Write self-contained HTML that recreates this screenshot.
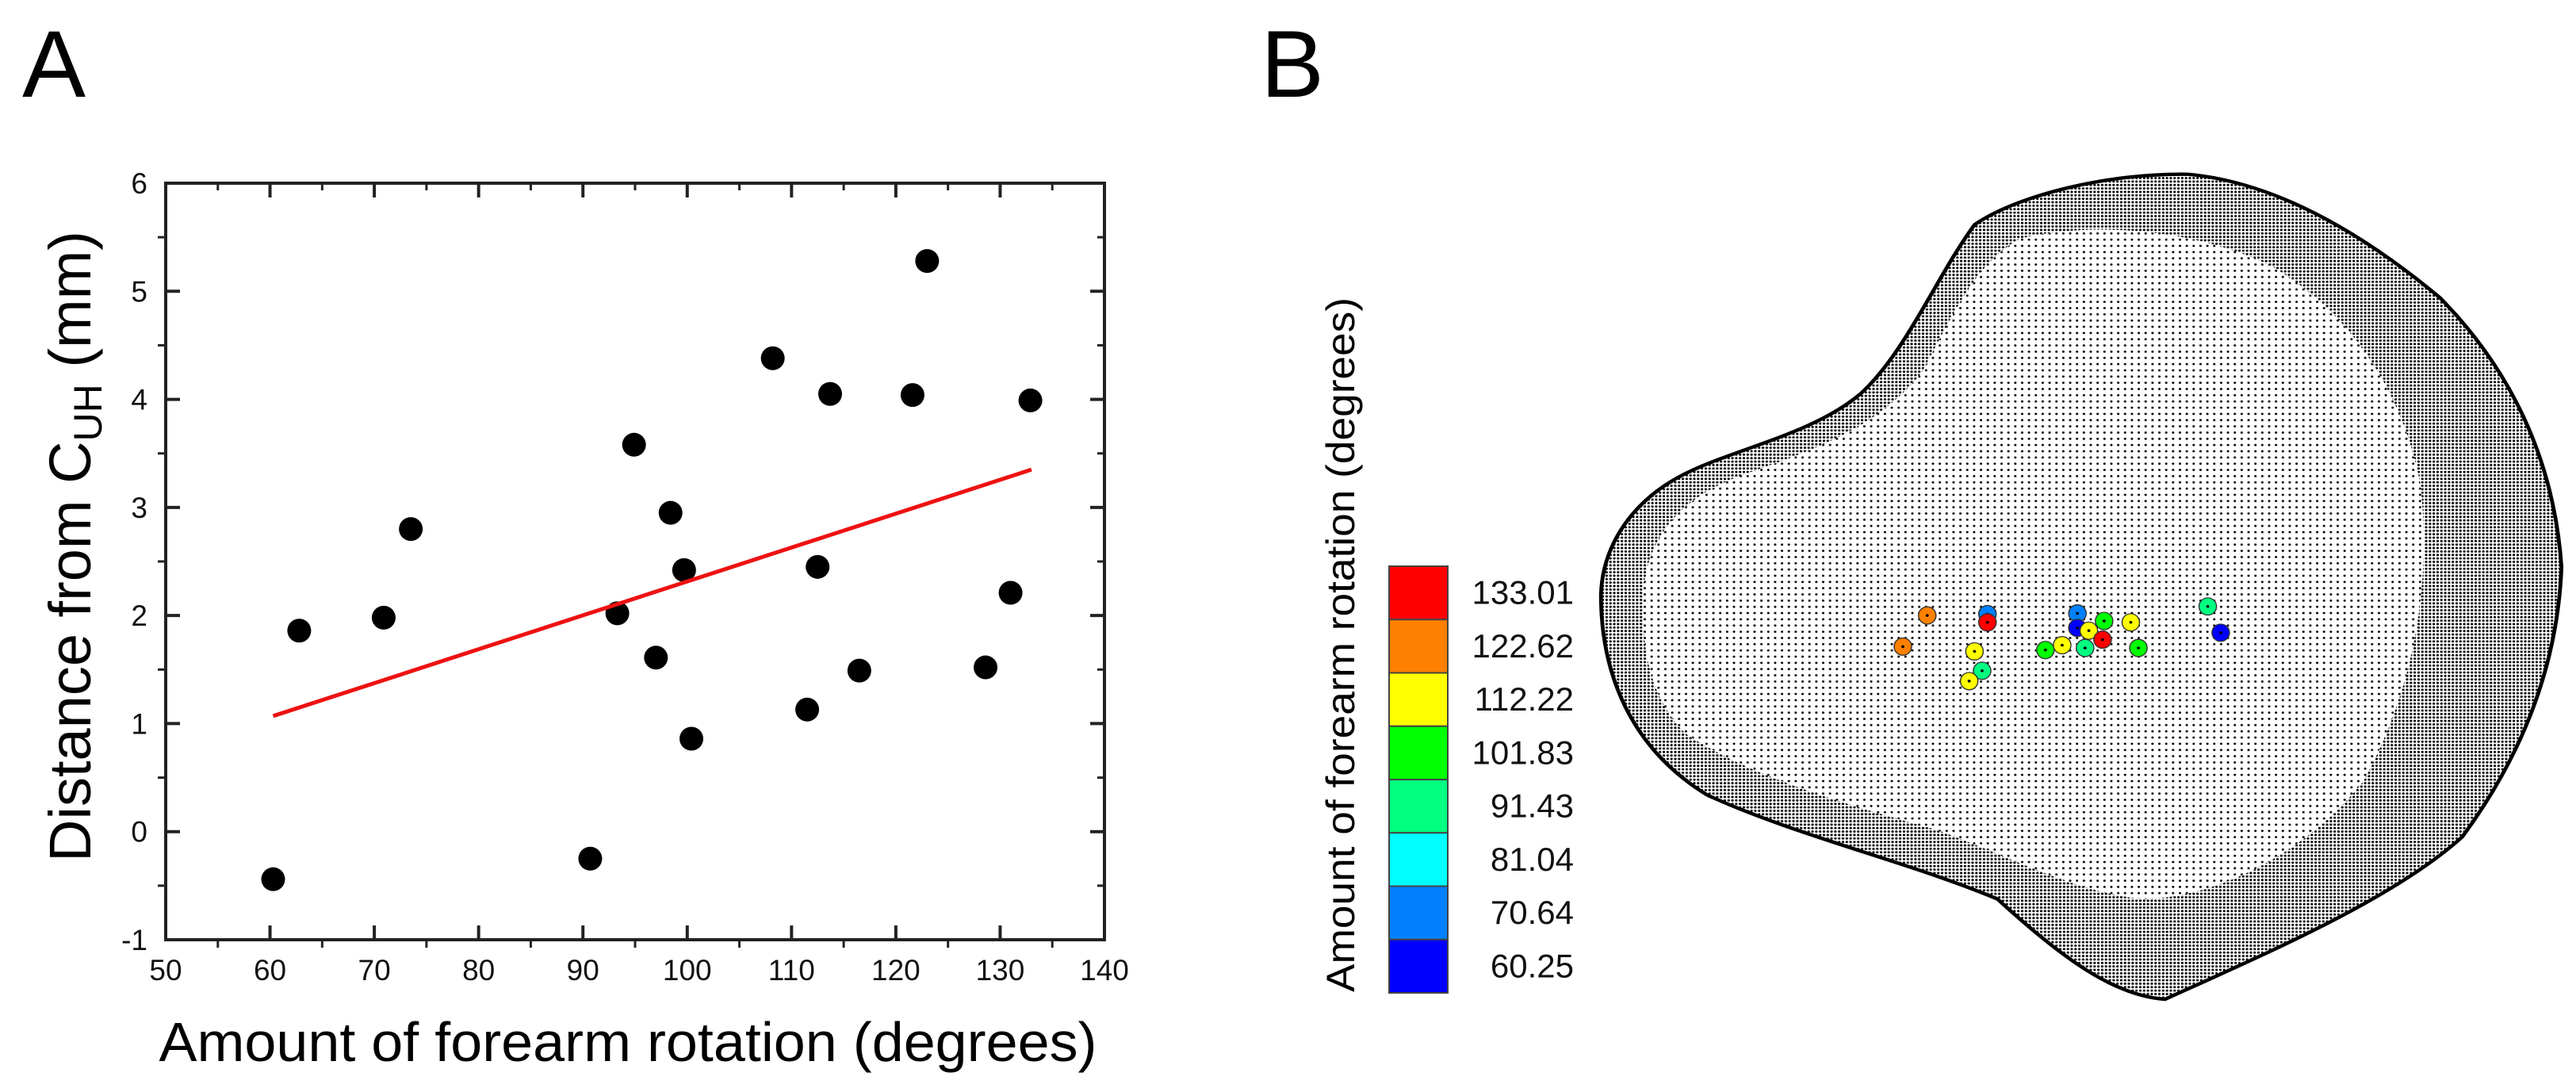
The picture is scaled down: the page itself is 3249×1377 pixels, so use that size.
<!DOCTYPE html>
<html><head><meta charset="utf-8">
<style>
html,body{margin:0;padding:0;background:#fff;}
svg{display:block;font-family:"Liberation Sans",Arial,sans-serif;}
</style></head>
<body>
<svg id="fig" width="3249" height="1377" viewBox="0 0 3249 1377" xmlns="http://www.w3.org/2000/svg">
<defs>
 <pattern id="sparse" width="9" height="9" patternUnits="userSpaceOnUse"><circle cx="4.5" cy="4.5" r="1.6" fill="#000"/></pattern>
 <pattern id="dense" width="5" height="5" patternUnits="userSpaceOnUse"><circle cx="2.5" cy="2.5" r="1.7" fill="#000"/></pattern>
</defs>
<text x="28" y="122" font-size="120">A</text>
<text x="1590" y="122" font-size="120">B</text>
<g id="chartA"></g>
<g id="panelB"></g>
</svg>
<script>
// ---- Panel A data ----
const rotation = [60.3,62.8,70.9,73.5,90.7,93.3,94.9,97.0,98.4,99.7,100.4,108.2,111.5,112.5,113.7,116.5,121.6,123.0,128.6,131.0,132.9];
const distance = [-0.44,1.86,1.98,2.80,-0.25,2.02,3.58,1.61,2.95,2.42,0.86,4.38,1.13,2.45,4.05,1.49,4.04,5.28,1.52,2.21,3.99];
const fitX = [60.3,133.0];
const fitY = [1.07,3.35];
const xTicks = [50,60,70,80,90,100,110,120,130,140];
const yTicks = [-1,0,1,2,3,4,5,6];
// ---- Panel B data ----
const legendLabels = ["133.01","122.62","112.22","101.83","91.43","81.04","70.64","60.25"];
const legendColors = ["#ff0000","#ff8000","#ffff00","#00ff00","#00ff80","#00ffff","#0080ff","#0000ff"];
const markerX = [708,676,787,787,770,780,763,863,885,905,905,920,940,915,938,975,985,1076,1093];
const markerY = [890,935,888,900,942,970,985,940,933,887,908,912,898,937,925,900,937,877,915];
const markerCol = [1,1,6,0,2,4,2,3,2,6,7,2,3,4,0,2,3,4,7];

const NS="http://www.w3.org/2000/svg";
function mk(tag,attrs,parent){const e=document.createElementNS(NS,tag);for(const k in attrs)e.setAttribute(k,attrs[k]);parent.appendChild(e);return e;}

const L=209,R=1393,T=231,B=1185;
const xs=v=>L+(v-50)/90*(R-L);
const ys=v=>B-(v+1)/7*(B-T);
const A=document.getElementById('chartA');

let fr=mk('rect',{x:L,y:T,width:R-L,height:B-T,fill:'none',stroke:'#222','stroke-width':4},A);



xTicks.forEach((t,i)=>{
  const x=xs(t);
  if(i>0&&i<xTicks.length-1){
    mk('line',{x1:x,y1:B,x2:x,y2:B-18,stroke:'#222','stroke-width':4},A);
    mk('line',{x1:x,y1:T,x2:x,y2:T+18,stroke:'#222','stroke-width':4},A);
  }
  if(i<xTicks.length-1){const xm=xs(t+5);
    mk('line',{x1:xm,y1:B,x2:xm,y2:B+10,stroke:'#222','stroke-width':3},A);
    mk('line',{x1:xm,y1:T,x2:xm,y2:T+9,stroke:'#222','stroke-width':3},A);}
  const tx=mk('text',{x:x,y:1236,'font-size':37,'text-anchor':'middle',fill:'#111'},A);
  tx.textContent=t;
  
  
});
yTicks.forEach((t,i)=>{
  const y=ys(t);
  if(i>0&&i<yTicks.length-1){
    mk('line',{x1:L,y1:y,x2:L+18,y2:y,stroke:'#222','stroke-width':4},A);
    mk('line',{x1:R,y1:y,x2:R-18,y2:y,stroke:'#222','stroke-width':4},A);
  }
  if(i<yTicks.length-1){const ym=ys(t+0.5);
    mk('line',{x1:L,y1:ym,x2:L-10,y2:ym,stroke:'#222','stroke-width':3},A);
    mk('line',{x1:R,y1:ym,x2:R-9,y2:ym,stroke:'#222','stroke-width':3},A);}
  const tx=mk('text',{x:186,y:y+13,'font-size':37,'text-anchor':'end',fill:'#111'},A);
  tx.textContent=t;
  
  
});
rotation.forEach((v,i)=>{
  const c=mk('circle',{cx:xs(v),cy:ys(distance[i]),r:15,fill:'#000'},A);
  
  
});
const fl=mk('line',{x1:xs(fitX[0]),y1:ys(fitY[0]),x2:xs(fitX[1]),y2:ys(fitY[1]),stroke:'#ee1111','stroke-width':5},A);



const xt=mk('text',{x:792,y:1338,'font-size':70,'text-anchor':'middle',textLength:1183,lengthAdjust:'spacingAndGlyphs'},A);
xt.textContent='Amount of forearm rotation (degrees)';


const yt=mk('text',{x:0,y:0,'font-size':74,'text-anchor':'middle',transform:'translate(114,689) rotate(-90)'},A);
yt.innerHTML='Distance from C<tspan font-size="50" dy="14">UH</tspan><tspan dy="-14"> (mm)</tspan>';



// ---- Panel B ----
const P=document.getElementById('panelB');
const g=mk('g',{transform:'translate(1750,0) scale(0.9615,0.872)'},P);
const outer="M280,860 C282,790 320,720 400,680 C470,645 560,625 620,570 C680,510 720,400 770,325 C830,280 950,250 1050,252 C1150,262 1260,320 1380,430 C1470,530 1530,660 1540,820 C1535,960 1490,1090 1410,1210 C1320,1300 1150,1380 1020,1445 C950,1440 880,1380 800,1300 C680,1245 540,1210 420,1150 C330,1090 280,990 280,860 Z";
const inner="M335,860 C340,780 380,720 470,685 C560,650 640,620 700,540 C740,460 770,380 830,345 C920,320 1060,330 1160,385 C1260,450 1330,560 1355,700 C1370,850 1345,1000 1280,1130 C1200,1240 1080,1300 990,1300 C900,1290 820,1240 720,1200 C590,1160 470,1120 390,1060 C345,1010 333,940 335,860 Z";
const rim=mk('path',{d:outer+" "+inner,'fill-rule':'evenodd',fill:'url(#dense)'},g);


const core=mk('path',{d:inner,fill:'url(#sparse)'},g);


const ol=mk('path',{d:outer,fill:'none',stroke:'#000','stroke-width':5},g);


markerX.forEach((mx,i)=>{
  const c=mk('ellipse',{cx:mx,cy:markerY[i],rx:11.5,ry:12.5,fill:legendColors[markerCol[i]],stroke:'#333','stroke-width':1.5},g);
  
  
  mk('circle',{cx:mx,cy:markerY[i],r:2,fill:'#000'},g);
});

// colorbar
const cbT=714,cbB=1252,cbL=1752,cbR=1826;
const h=(cbB-cbT)/legendColors.length;
legendColors.forEach((c,i)=>{
  const r=mk('rect',{x:cbL,y:cbT+i*h,width:cbR-cbL,height:h,fill:c,stroke:'#444','stroke-width':2},P);
  
  
  const t=mk('text',{x:1985,y:cbT+i*h+h/2+14,'font-size':42,'text-anchor':'end',fill:'#111'},P);
  t.textContent=legendLabels[i];
  
  
});
const ct=mk('text',{x:0,y:0,'font-size':50,'text-anchor':'middle',transform:'translate(1708,813) rotate(-90)',textLength:876,lengthAdjust:'spacingAndGlyphs'},P);
ct.textContent='Amount of forearm rotation (degrees)';


</script>
</body></html>
